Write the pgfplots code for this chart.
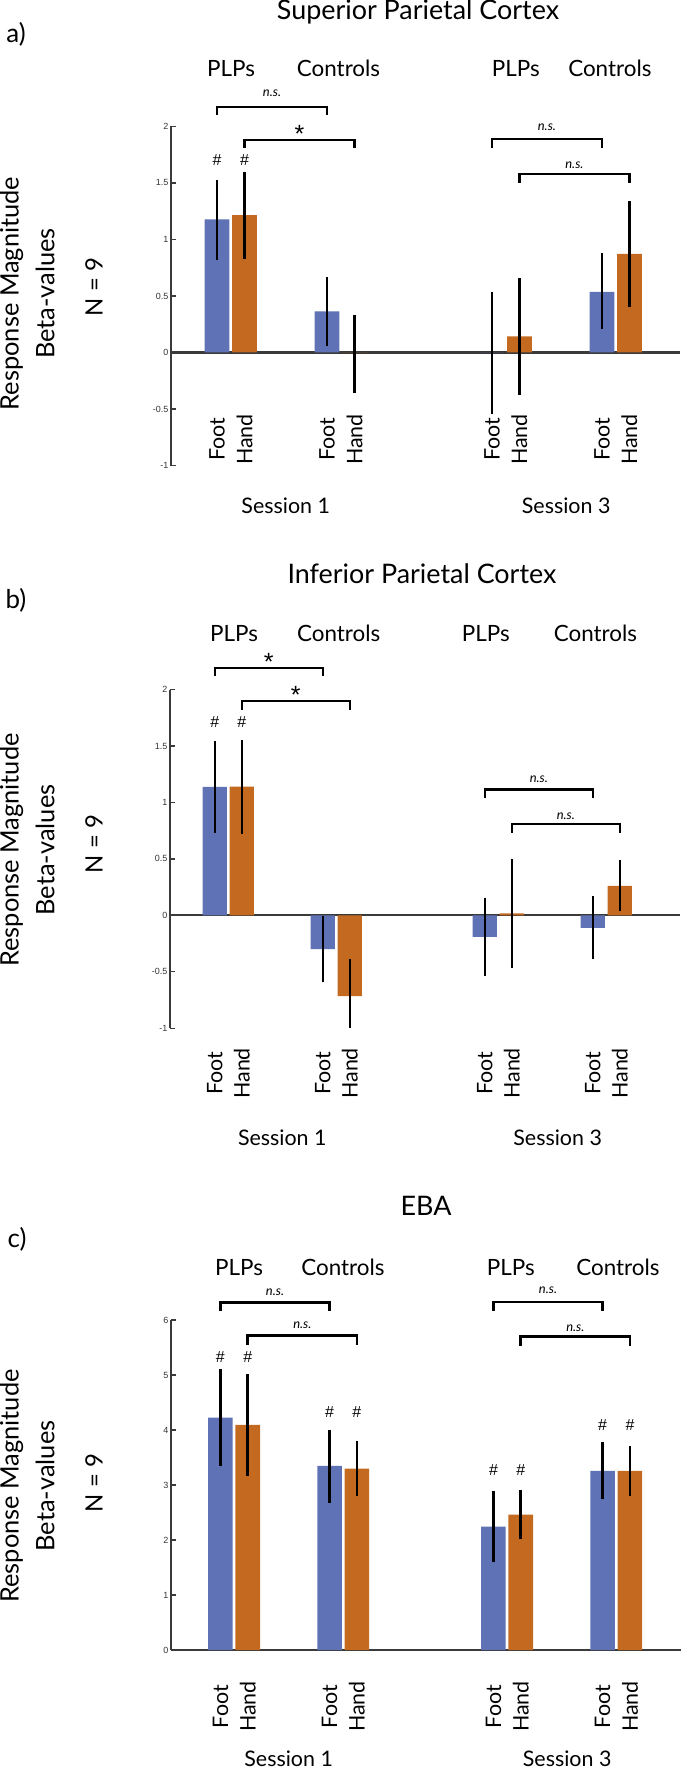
\documentclass[border=0pt]{standalone}
\usepackage{pgfplots}
\pgfplotsset{compat=1.18}
\usepackage{pgfplotstable}
\usepackage{fontspec}
\setmainfont{Lato}
\newfontfamily\tickfont{Liberation Sans}
\newcommand\fs[1]{\fontsize{#1}{#1}\selectfont}
\definecolor{cblue}{HTML}{5F72B5}
\definecolor{corange}{HTML}{C46A20}
\definecolor{axgray}{HTML}{3A3A3A}

% Panel a
\pgfplotstableread{
x y ep em
1 1.177 0.350 0.357
5 0.364 0.306 0.304
11 0.000 0.533 0.540
15 0.537 0.343 0.332
}\Ablue
\pgfplotstableread{
x y ep em
2 1.215 0.385 0.390
6 0.000 0.330 0.360
12 0.143 0.517 0.523
16 0.872 0.468 0.472
}\Aorange
% Panel b
\pgfplotstableread{
x y ep em
1 1.137 0.407 0.404
5 -0.299 0.292 0.295
11 -0.190 0.346 0.346
15 -0.112 0.282 0.278
}\Bblue
\pgfplotstableread{
x y ep em
2 1.140 0.414 0.417
6 -0.716 0.326 0.284
12 0.017 0.485 0.485
16 0.261 0.231 0.227
}\Borange
% Panel c
\pgfplotstableread{
x y ep em
1 4.225 0.885 0.875
5 3.350 0.650 0.670
11 2.246 0.644 0.652
15 3.260 0.520 0.520
}\Cblue
\pgfplotstableread{
x y ep em
2 4.094 0.926 0.924
6 3.300 0.500 0.500
12 2.464 0.449 0.450
16 3.260 0.450 0.450
}\Corange

\pgfplotsset{
  panel/.style={
    scale only axis, clip=false,
    axis x line*=middle, axis y line*=left,
    axis line style={draw=axgray, line width=2.2bp},
    xtick=\empty, ytick pos=left, tick align=inside,
    major tick length=5bp,
    ytick style={draw=axgray, line width=1.3bp},
    yticklabel style={font=\tickfont\fs{9}, text=black!80, inner sep=2.5bp},
  },
  bars/.style={ybar, bar width=0.9, bar shift=0pt, fill=#1, draw=none,
    error bars/.cd, y dir=both, y explicit, error mark=none,
    error bar style={line width=2.6bp, black}},
}

\newcommand{\ns}[6]{%
  \draw[line width=2.5bp, black] (axis cs:#1,#4) -- (axis cs:#1,#3) -- (axis cs:#2,#3) -- (axis cs:#2,#4);
  \node[font=\itshape\fs{13}] at (axis cs:#5,#6) {n.s.};}
\newcommand{\st}[6]{%
  \draw[line width=2.5bp, black] (axis cs:#1,#4) -- (axis cs:#1,#3) -- (axis cs:#2,#3) -- (axis cs:#2,#4);
  \node[font=\tickfont\fs{25}, yshift=-4bp] at (axis cs:#5,#6) {*};}
\newcommand{\hash}[2]{\node[font=\tickfont\fs{16}] at (axis cs:#1,#2) {\#};}
\newcommand{\footHand}[1]{%
  \node[rotate=90, font=\fs{21.5}] at (axis cs:1,#1) {Foot};
  \node[rotate=90, font=\fs{21.5}] at (axis cs:2,#1) {Hand};
  \node[rotate=90, font=\fs{21.5}] at (axis cs:5,#1) {Foot};
  \node[rotate=90, font=\fs{21.5}] at (axis cs:6,#1) {Hand};
  \node[rotate=90, font=\fs{21.5}] at (axis cs:11,#1) {Foot};
  \node[rotate=90, font=\fs{21.5}] at (axis cs:12,#1) {Hand};
  \node[rotate=90, font=\fs{21.5}] at (axis cs:15,#1) {Foot};
  \node[rotate=90, font=\fs{21.5}] at (axis cs:16,#1) {Hand};}
\newcommand{\groups}[5]{%
  \node[font=\fs{22.5}] at (axis cs:#1,#5) {PLPs};
  \node[font=\fs{22.5}] at (axis cs:#2,#5) {Controls};
  \node[font=\fs{22.5}] at (axis cs:#3,#5) {PLPs};
  \node[font=\fs{22.5}] at (axis cs:#4,#5) {Controls};}
\newcommand{\sessions}[1]{%
  \node[font=\fs{21.5}] at (axis cs:3.5,#1) {Session 1};
  \node[font=\fs{21.5}] at (axis cs:13.7,#1) {Session 3};}

\begin{document}
\begin{tikzpicture}
\useasboundingbox (0bp,0bp) rectangle (681bp,-1774bp);

% ---------------- Panel a
\begin{axis}[panel, at={(171bp,-126.4bp)}, anchor=north west,
  width=509bp, height=339.1bp, xmin=-0.673, xmax=17.84, ymin=-1, ymax=2,
  ytick={-1,-0.5,0,0.5,1,1.5,2}, yticklabels={-1,-0.5,0,0.5,1,1.5,2}]
\addplot[bars=cblue] table[x=x, y=y, y error plus=ep, y error minus=em] \Ablue;
\addplot[bars=corange] table[x=x, y=y, y error plus=ep, y error minus=em] \Aorange;
\ns{1}{5}{2.17}{2.10}{3}{2.29}
\st{2}{6}{1.88}{1.81}{4}{1.97}
\ns{11}{15}{1.89}{1.81}{13}{1.99}
\ns{12}{16}{1.58}{1.50}{14}{1.655}
\hash{1}{1.70}\hash{2}{1.70}
\groups{1.51}{5.42}{11.87}{15.29}{2.51}
\footHand{-0.77}
\sessions{-1.36}
\end{axis}

% ---------------- Panel b
\begin{axis}[panel, at={(170bp,-689.5bp)}, anchor=north west,
  width=510bp, height=338.7bp, xmin=-0.66, xmax=18.23, ymin=-1, ymax=2,
  ytick={-1,-0.5,0,0.5,1,1.5,2}, yticklabels={-1,-0.5,0,0.5,1,1.5,2}]
\addplot[bars=cblue] table[x=x, y=y, y error plus=ep, y error minus=em] \Bblue;
\addplot[bars=corange] table[x=x, y=y, y error plus=ep, y error minus=em] \Borange;
\st{1}{5}{2.19}{2.12}{3}{2.28}
\st{2}{6}{1.90}{1.82}{4}{1.99}
\ns{11}{15}{1.113}{1.038}{13}{1.208}
\ns{12}{16}{0.808}{0.73}{14}{0.875}
\hash{1}{1.71}\hash{2}{1.71}
\groups{1.71}{5.59}{11.04}{15.1}{2.50}
\footHand{-1.40}
\sessions{-1.97}
\end{axis}

% ---------------- Panel c
\begin{axis}[panel, at={(171bp,-1320.1bp)}, anchor=north west,
  width=510bp, height=329.9bp, xmin=-0.81, xmax=17.87, ymin=0, ymax=6,
  ytick={0,1,2,3,4,5,6}, yticklabels={0,1,2,3,4,5,6}]
\addplot[bars=cblue] table[x=x, y=y, y error plus=ep, y error minus=em] \Cblue;
\addplot[bars=corange] table[x=x, y=y, y error plus=ep, y error minus=em] \Corange;
\ns{1}{5}{6.32}{6.16}{3}{6.51}
\ns{2}{6}{5.72}{5.54}{4}{5.91}
\ns{11}{15}{6.33}{6.17}{13}{6.54}
\ns{12}{16}{5.70}{5.53}{14}{5.86}
\hash{1}{5.33}\hash{2}{5.33}
\hash{5}{4.33}\hash{6}{4.33}
\hash{11}{3.28}\hash{12}{3.28}
\hash{15}{4.09}\hash{16}{4.09}
\groups{1.68}{5.49}{11.64}{15.56}{6.96}
\footHand{-1.03}
\sessions{-1.97}
\end{axis}

% ---------------- titles and side labels
\node[font=\fs{27}] at (418bp,-12bp) {Superior Parietal Cortex};
\node[font=\fs{27}] at (422bp,-573.4bp) {Inferior Parietal Cortex};
\node[font=\fs{27}] at (426bp,-1205.8bp) {EBA};
\node[font=\fs{26}] at (16bp,-34.5bp) {a)};
\node[font=\fs{26}] at (16bp,-600bp) {b)};
\node[font=\fs{26}] at (17bp,-1239.6bp) {c)};
\foreach \yc/\yn in {293.5/287, 850/844, 1486/1483}{
  \node[rotate=90, font=\fs{25.5}] at (11.5bp,-\yc bp) {Response Magnitude};
  \node[rotate=90, font=\fs{25.5}] at (45bp,-\yc bp) {Beta-values};
  \node[rotate=90, font=\fs{24}] at (94bp,-\yn bp) {N = 9};
}
\end{tikzpicture}
\end{document}
